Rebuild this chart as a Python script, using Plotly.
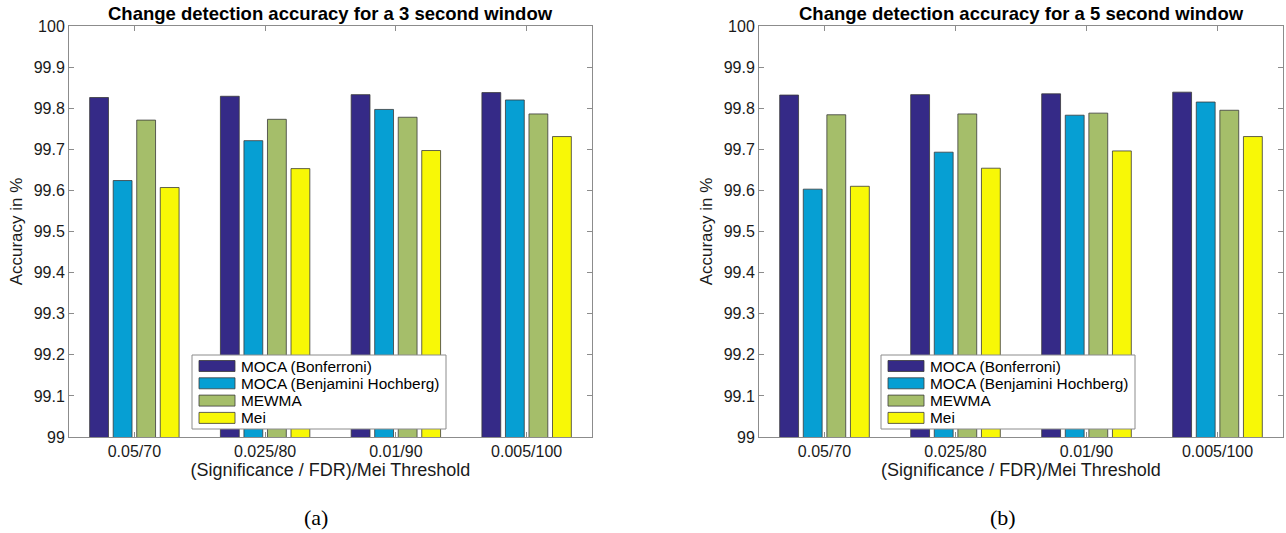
import plotly.graph_objects as go

categories = ["0.05/70", "0.025/80", "0.01/90", "0.005/100"]
series_names = ["MOCA (Bonferroni)", "MOCA (Benjamini Hochberg)", "MEWMA", "Mei"]
series_colors = ["#352a87", "#069fd3", "#a5be6a", "#f8f806"]

# accuracy in % for the 3 second window
acc_3s_bonferroni = [99.826, 99.829, 99.833, 99.838]
acc_3s_bh = [99.624, 99.721, 99.797, 99.820]
acc_3s_mewma = [99.771, 99.773, 99.778, 99.786]
acc_3s_mei = [99.607, 99.653, 99.697, 99.731]

# accuracy in % for the 5 second window
acc_5s_bonferroni = [99.832, 99.833, 99.835, 99.839]
acc_5s_bh = [99.603, 99.693, 99.783, 99.815]
acc_5s_mewma = [99.784, 99.786, 99.788, 99.795]
acc_5s_mei = [99.610, 99.654, 99.696, 99.731]

y_tick_vals = [99.0, 99.1, 99.2, 99.3, 99.4, 99.5, 99.6, 99.7, 99.8, 99.9, 100.0]
y_tick_text = ["99", "99.1", "99.2", "99.3", "99.4", "99.5", "99.6", "99.7", "99.8", "99.9", "100"]

titles = ["Change detection accuracy for a 3 second window",
          "Change detection accuracy for a 5 second window"]
captions = ["(a)", "(b)"]

panels = [
    [acc_3s_bonferroni, acc_3s_bh, acc_3s_mewma, acc_3s_mei],
    [acc_5s_bonferroni, acc_5s_bh, acc_5s_mewma, acc_5s_mei],
]

W, H = 1286, 533
x_domains = [[69 / W, 592 / W], [759 / W, 1283 / W]]
y_domain = [1 - 437 / H, 1 - 26 / H]
FONT = "Liberation Sans, Arial, Helvetica, sans-serif"
SERIF = "Liberation Serif, Times New Roman, serif"
AXIS_GRAY = "#8c8c8c"
TEXT = "#1a1a1a"
BAR_EDGE = "#3a3a3a"


def px_x(v):
    return v / W


def px_y(v):
    return 1 - v / H


fig = go.Figure()

for p, panel in enumerate(panels):
    xa = "x" if p == 0 else "x2"
    ya = "y" if p == 0 else "y2"
    for name, color, vals in zip(series_names, series_colors, panel):
        fig.add_trace(go.Bar(
            x=categories, y=vals, name=name, showlegend=False,
            marker=dict(color=color, line=dict(color=BAR_EDGE, width=0.8)),
            xaxis=xa, yaxis=ya,
        ))

axis_common = dict(
    showline=True, linecolor=AXIS_GRAY, linewidth=1, mirror="ticks",
    ticks="inside", ticklen=5, tickcolor=AXIS_GRAY, showgrid=False, zeroline=False,
    automargin=False, tickfont=dict(family=FONT, size=16, color=TEXT),
)

for p in range(2):
    sfx = "" if p == 0 else "2"
    fig.layout["xaxis" + sfx] = dict(
        axis_common, domain=x_domains[p], anchor="y" + sfx,
        type="category", range=[-0.5, 3.5],
        title=dict(text="(Significance / FDR)/Mei Threshold",
                   font=dict(family=FONT, size=18, color=TEXT), standoff=0),
    )
    fig.layout["yaxis" + sfx] = dict(
        axis_common, domain=y_domain, anchor="x" + sfx,
        range=[99, 100], tickvals=y_tick_vals, ticktext=y_tick_text,
        title=dict(text="Accuracy in %",
                   font=dict(family=FONT, size=17, color=TEXT), standoff=6),
    )
    xc = (x_domains[p][0] + x_domains[p][1]) / 2
    fig.add_annotation(
        text="<b>" + titles[p] + "</b>", xref="paper", yref="paper",
        x=xc, y=px_y(13), xanchor="center", yanchor="middle", showarrow=False,
        font=dict(family=FONT, size=18.5, color="#000000"),
    )
    fig.add_annotation(
        text=captions[p], xref="paper", yref="paper",
        x=px_x(316 if p == 0 else 1003), y=px_y(517),
        xanchor="center", yanchor="middle", showarrow=False,
        font=dict(family=SERIF, size=22, color="#000000"),
    )

    # legend box with wide colour swatches
    off = 0 if p == 0 else 689
    fig.add_shape(
        type="rect", xref="paper", yref="paper",
        x0=px_x(192 + off), x1=px_x(446 + off), y0=px_y(429), y1=px_y(355),
        fillcolor="#ffffff", line=dict(color=AXIS_GRAY, width=1), layer="above",
    )
    for i, (name, color) in enumerate(zip(series_names, series_colors)):
        yc = 366 + i * 17.3
        fig.add_shape(
            type="rect", xref="paper", yref="paper",
            x0=px_x(199 + off), x1=px_x(235 + off), y0=px_y(yc + 5.5), y1=px_y(yc - 5.5),
            fillcolor=color, line=dict(color=BAR_EDGE, width=0.8), layer="above",
        )
        fig.add_annotation(
            text=name, xref="paper", yref="paper",
            x=px_x(239 + off), y=px_y(yc), xanchor="left", yanchor="middle",
            showarrow=False, font=dict(family=FONT, size=15.4, color="#000000"),
        )

fig.update_layout(
    width=W, height=H,
    margin=dict(l=0, r=0, t=0, b=0),
    paper_bgcolor="#ffffff", plot_bgcolor="#ffffff",
    barmode="group", bargap=0.28, bargroupgap=0.2,
    showlegend=False,
)

fig.write_html("out.html")
